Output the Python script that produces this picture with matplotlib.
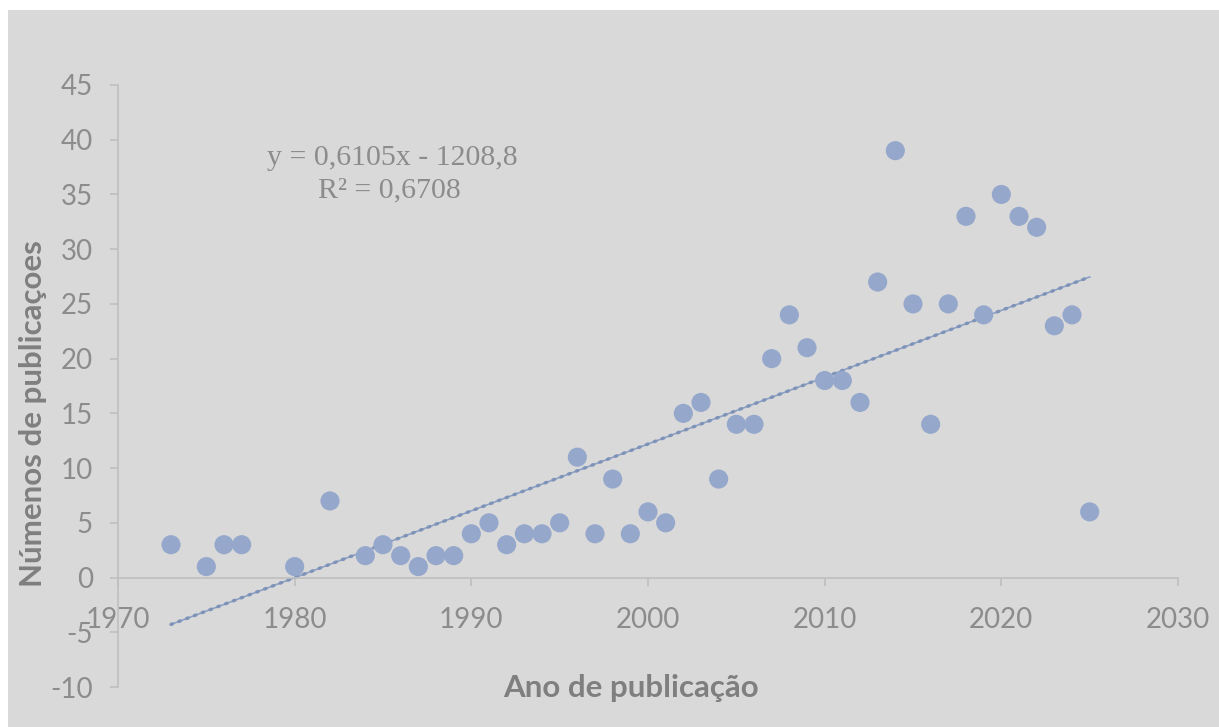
import numpy as np
import matplotlib.pyplot as plt
from matplotlib.patches import Rectangle

# dados
anos = [1973, 1975, 1976, 1977, 1980, 1982, 1984, 1985, 1986, 1987, 1988, 1989,
        1990, 1991, 1992, 1993, 1994, 1995, 1996, 1997, 1998, 1999, 2000, 2001,
        2002, 2003, 2004, 2005, 2006, 2007, 2008, 2009, 2010, 2011, 2012, 2013,
        2014, 2015, 2016, 2017, 2018, 2019, 2020, 2021, 2022, 2023, 2024, 2025]
publicacoes = [3, 1, 3, 3, 1, 7, 2, 3, 2, 1, 2, 2,
               4, 5, 3, 4, 4, 5, 11, 4, 9, 4, 6, 5,
               15, 16, 9, 14, 14, 20, 24, 21, 18, 18, 16, 27,
               39, 25, 14, 25, 33, 24, 35, 33, 32, 23, 24, 6]

# linha de tendência (coeficientes do rótulo)
inclinacao = 0.6105
intercepto = -1208.8
equacao = 'y = 0,6105x - 1208,8'
r2_texto = 'R² = 0,6708'

x_ticks = [1970, 1980, 1990, 2000, 2010, 2020, 2030]
y_ticks = [-10, -5, 0, 5, 10, 15, 20, 25, 30, 35, 40, 45]

plt.rcParams['font.family'] = ['Lato', 'DejaVu Sans']
plt.rcParams['axes.unicode_minus'] = False  # hífen simples como no Excel

W, H = 1219, 727
fig = plt.figure(figsize=(W / 100, H / 100), dpi=100, facecolor='white')
fig.patches.append(Rectangle((8 / W, 0), 1 - 8 / W, 1 - 10 / H,
                             transform=fig.transFigure, facecolor='#d9d9d9',
                             edgecolor='none', zorder=-10))

ax = fig.add_axes([118 / W, 40 / H, (1178 - 118) / W, (687 - 85) / H])
ax.set_facecolor('none')

cor_eixo = '#bfbfbf'
cor_texto = '#8c8c8c'

ax.scatter(anos, publicacoes, s=190, color='#95a8cc', edgecolors='none', zorder=3,
           clip_on=False)

x_tend = np.array([anos[0], anos[-1]])
y_tend = inclinacao * x_tend + intercepto
ax.plot(x_tend, y_tend, color='#8ea2c6', lw=1.2, zorder=2)
ax.plot(x_tend, y_tend, color='#7f93b8', lw=2.4, linestyle=(0, (0.5, 2.0)),
        dash_capstyle='round', zorder=2)

ax.set_xlim(1970, 2030)
ax.set_ylim(-10, 45)
ax.set_xticks(x_ticks)
ax.set_yticks(y_ticks)

for s in ['top', 'right']:
    ax.spines[s].set_visible(False)
ax.spines['bottom'].set_position(('data', 0))
ax.spines['bottom'].set_color(cor_eixo)
ax.spines['left'].set_color(cor_eixo)
ax.spines['bottom'].set_linewidth(1.2)
ax.spines['left'].set_linewidth(1.2)

ax.tick_params(axis='both', colors=cor_eixo, labelcolor=cor_texto,
               labelsize=20, length=6, width=1.2, direction='out')
ax.tick_params(axis='x', pad=15)
ax.tick_params(axis='y', pad=12)

fig.text(33 / W, 1 - 414 / H, 'Númenos de publicaçoes', rotation=90,
         ha='center', va='center', fontsize=22.5, fontweight='bold', color='#7f7f7f')
fig.text(631 / W, 1 - 688 / H, 'Ano de publicação',
         ha='center', va='center', fontsize=22.5, fontweight='bold', color='#7f7f7f')

fig.text(392 / W, 1 - 158 / H, equacao, ha='center', va='center',
         fontsize=21.5, family='Liberation Serif', color=cor_texto)
fig.text(389 / W, 1 - 190 / H, r2_texto, ha='center', va='center',
         fontsize=21.5, family='Liberation Serif', color=cor_texto)

fig.savefig('out.png', dpi=100, facecolor='white')
